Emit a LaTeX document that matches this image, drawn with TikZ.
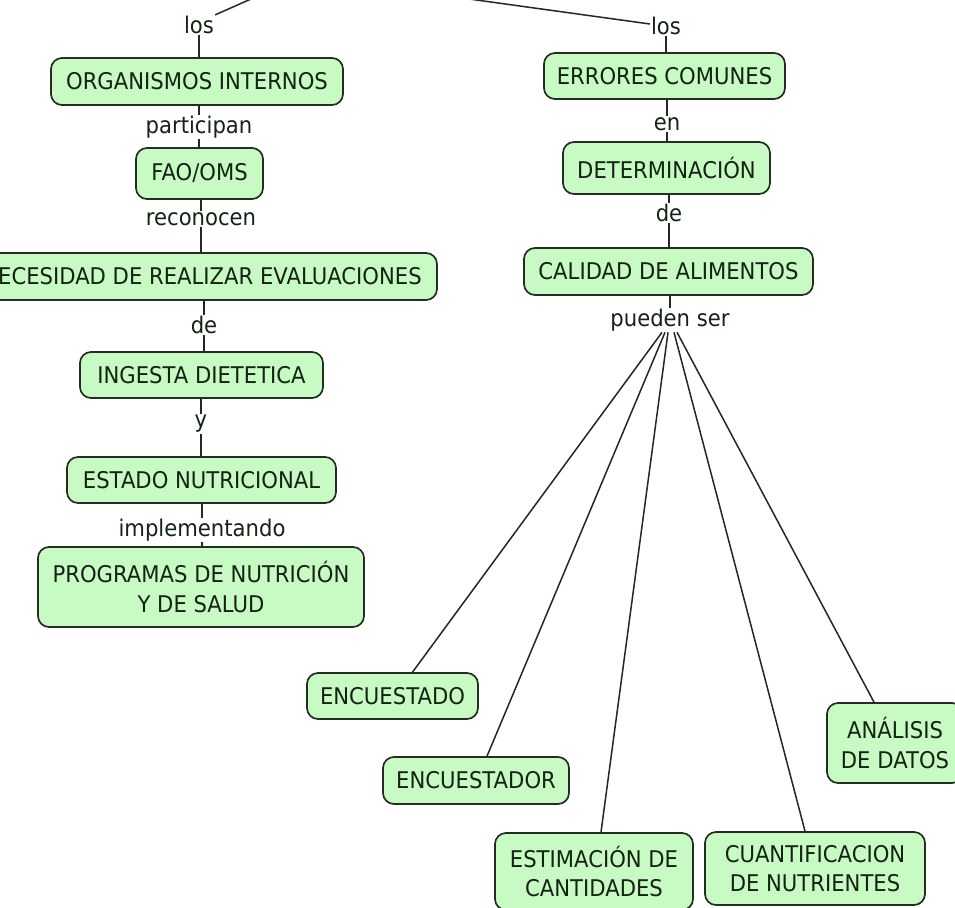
\documentclass[tikz,border=0pt]{standalone}
\usepackage{fontspec}
\setmainfont{DejaVu Sans}[FakeStretch=0.92]
\usetikzlibrary{calc}
\definecolor{boxfill}{RGB}{200,250,195}
\definecolor{boxline}{RGB}{35,45,35}
\definecolor{txt}{RGB}{20,35,20}
\tikzset{
 concept/.style={draw=boxline, line width=1.7pt, fill=boxfill, rounded corners=11pt, align=center, inner sep=0pt, text=txt, font=\fontsize{23}{29.5}\selectfont},
 linkphrase/.style={inner sep=1pt, text=txt, font=\fontsize{23}{26}\selectfont},
 conn/.style={draw=black!85, line width=1.5pt}
}
\begin{document}
\begin{tikzpicture}[x=1pt,y=-1pt]
\clip (0,0) rectangle (955,907);
\fill[white] (0,0) rectangle (955,907);
\coordinate (apex) at (303,-24);
% left column
\node[linkphrase] (los1) at (199,25) {los};
\node[concept, minimum width=292pt, minimum height=47pt] (org) at (197,81.5) {ORGANISMOS INTERNOS};
\node[linkphrase] (part) at (199,127) {participan};
\node[concept, minimum width=127pt, minimum height=51pt] (fao) at (199.5,173.5) {FAO/OMS};
\node[linkphrase] (reco) at (201,219) {reconocen};
\node[concept, minimum width=470pt, minimum height=47pt] (nec) at (202,276.5) {NECESIDAD DE REALIZAR EVALUACIONES};
\node[linkphrase] (de1) at (204,325) {de};
\node[concept, minimum width=243pt, minimum height=46pt] (ing) at (201.5,375) {INGESTA DIETETICA};
\node[linkphrase] (yy) at (201,424) {y};
\node[concept, minimum width=269pt, minimum height=46pt] (est) at (201.5,480) {ESTADO NUTRICIONAL};
\node[linkphrase] (impl) at (202,530) {implementando};
\node[concept, minimum width=326pt, minimum height=80pt] (prog) at (201,587) {PROGRAMAS DE NUTRICIÓN\\Y DE SALUD};
% right column
\node[linkphrase] (los2) at (666,26) {los};
\node[concept, minimum width=241pt, minimum height=46pt] (err) at (664.5,76) {ERRORES COMUNES};
\node[linkphrase] (en) at (667,124) {en};
\node[concept, minimum width=207pt, minimum height=52pt] (det) at (666.5,168) {DETERMINACIÓN};
\node[linkphrase] (de2) at (669,213) {de};
\node[concept, minimum width=289pt, minimum height=47pt] (cal) at (668.5,271.5) {CALIDAD DE ALIMENTOS};
\node[linkphrase] (pued) at (670,320) {pueden ser};
% bottom concepts
\node[concept, minimum width=171pt, minimum height=46pt] (enc1) at (392.5,696) {ENCUESTADO};
\node[concept, minimum width=186pt, minimum height=47pt] (enc2) at (476,780.5) {ENCUESTADOR};
\node[concept, minimum width=198pt, minimum height=77pt] (estim) at (594,871.5) {ESTIMACIÓN DE\\CANTIDADES};
\node[concept, minimum width=220pt, minimum height=73pt] (cuant) at (815,868.5) {CUANTIFICACION\\DE NUTRIENTES};
\node[concept, minimum width=136pt, minimum height=80pt] (anal) at (895,743) {ANÁLISIS\\DE DATOS};
% top connectors
\draw[conn] (los1.north east) -- (apex);
\draw[conn] ($(los2.west)+(0,-2)$) -- (apex);
% left column connectors
\draw[conn] (los1.south) -- (los1.south |- org.north);
\draw[conn] (part.north) -- (part.north |- org.south);
\draw[conn] (part.south) -- (part.south |- fao.north);
\draw[conn] (reco.north) -- (reco.north |- fao.south);
\draw[conn] (reco.south) -- (reco.south |- nec.north);
\draw[conn] (de1.north) -- (de1.north |- nec.south);
\draw[conn] (de1.south) -- (de1.south |- ing.north);
\draw[conn] (yy.north) -- (yy.north |- ing.south);
\draw[conn] (yy.south) -- (yy.south |- est.north);
\draw[conn] (impl.north) -- (impl.north |- est.south);
\draw[conn] (impl.south) -- (impl.south |- prog.north);
% right column connectors
\draw[conn] (los2.south) -- (los2.south |- err.north);
\draw[conn] (en.north) -- (en.north |- err.south);
\draw[conn] (en.south) -- (en.south |- det.north);
\draw[conn] (de2.north) -- (de2.north |- det.south);
\draw[conn] (de2.south) -- (de2.south |- cal.north);
\draw[conn] (pued.north) -- (pued.north |- cal.south);
% fan
\draw[conn] ($(pued.south)+(-8,0)$) -- ($(enc1.north)+(20,0)$);
\draw[conn] ($(pued.south)+(-5,0)$) -- ($(enc2.north)+(11,0)$);
\draw[conn] ($(pued.south)+(-2,0)$) -- ($(estim.north)+(7,0)$);
\draw[conn] ($(pued.south)+(4,0)$) -- ($(cuant.north)+(-10,0)$);
\draw[conn] ($(pued.south)+(7,0)$) -- ($(anal.north)+(-21,0)$);
\end{tikzpicture}
\end{document}
